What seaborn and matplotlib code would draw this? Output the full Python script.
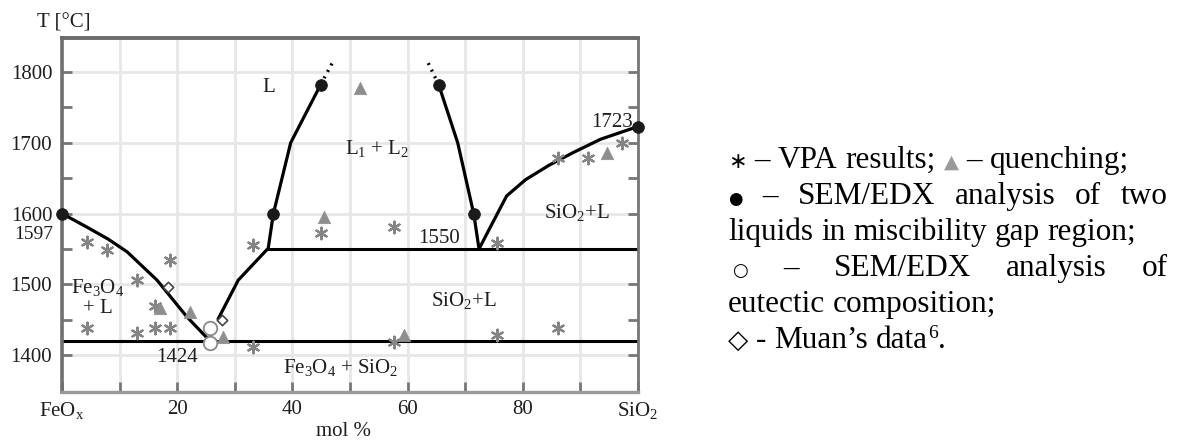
import numpy as np
import pandas as pd
import matplotlib
matplotlib.use("Agg")
import matplotlib.pyplot as plt
import seaborn as sns

# ---------------- data ----------------
liq_fe_x = [0, 4.3, 8.0, 11.3, 16.5, 21.7, 25.7]
liq_fe_T = [1600, 1581, 1564, 1546, 1506, 1454, 1420]

gap_left_x = [27.1, 30.6, 35.8, 36.7, 39.7, 44.9]
gap_left_T = [1451, 1506, 1551, 1600, 1700, 1782]

gap_right_x = [65.4, 68.7, 71.5, 72.4]
gap_right_T = [1782, 1700, 1599, 1550]

dot_left_x = [44.9, 47.0]
dot_left_T = [1782, 1814]
dot_right_x = [65.4, 63.5]
dot_right_T = [1782, 1814]

liq_si_x = [72.4, 74.5, 77.2, 80.5, 84.5, 88.7, 93.5, 100]
liq_si_T = [1550, 1583, 1625, 1648, 1668, 1686, 1705, 1723]

eutectic_x = [0, 100]
eutectic_T = [1420, 1420]
monotectic_x = [35.8, 100]
monotectic_T = [1550, 1550]

vpa_x = [4.3, 7.8, 13.0, 18.8, 4.3, 13.0, 16.2, 18.8, 16.2, 33.2, 33.2,
         44.9, 57.6, 57.6, 75.6, 86.1, 75.6, 86.1, 91.4, 97.3]
vpa_T = [1560, 1548, 1506, 1534, 1438, 1431, 1438, 1438, 1470, 1411, 1555,
         1572, 1581, 1418, 1428, 1438, 1558, 1678, 1678, 1700]

quench_x = [51.8, 45.4, 17.0, 22.3, 28.0, 59.3, 94.6]
quench_T = [1777, 1595, 1467, 1461, 1425, 1428, 1686]

sem_gap_x = [0, 36.7, 44.9, 65.4, 71.5, 100]
sem_gap_T = [1600, 1600, 1782, 1782, 1599, 1723]

sem_eut_x = [25.7, 25.7]
sem_eut_T = [1438, 1417]

muan_x = [18.4, 27.8]
muan_T = [1496, 1449]

region_labels = ["L", "L$_1$ + L$_2$", "SiO$_2$+L", "SiO$_2$+L",
                 "Fe$_3$O$_4$ + SiO$_2$", "Fe$_3$O$_4$", "+ L",
                 "1424", "1550", "1723"]
region_x = [35.9, 54.7, 89.4, 69.7, 48.3, 6.1, 6.3, 20.0, 65.5, 95.5]
region_T = [1778, 1692, 1602, 1477, 1383, 1496, 1466, 1397, 1565, 1729]

extra_ylabel = "1597"
extra_ylabel_T = 1570

xtick_vals = [0, 10, 20, 30, 40, 50, 60, 70, 80, 90, 100]
xtick_text = ["FeO$_x$", "", "20", "", "40", "", "60", "", "80", "", "SiO$_2$"]
ytick_major = [1400, 1500, 1600, 1700, 1800]
ytick_minor = [1450, 1550, 1650, 1750]

legend_lines = [
    "∗ – VPA results; ▲ – quenching;",
    "● – SEM/EDX analysis of two",
    "liquids in miscibility gap region;",
    "○ – SEM/EDX analysis of",
    "eutectic composition;",
    "◇ - Muan’s data",
]

# ---------------- style ----------------
sns.set_theme(style="white")
SERIF = ["Liberation Serif", "DejaVu Serif", "DejaVu Sans"]
plt.rcParams["font.family"] = SERIF
plt.rcParams["mathtext.fontset"] = "custom"
plt.rcParams["mathtext.rm"] = "Liberation Serif"
plt.rcParams["mathtext.it"] = "Liberation Serif:italic"
plt.rcParams["mathtext.default"] = "regular"

W, H = 1182, 443
fig = plt.figure(figsize=(W / 100, H / 100), dpi=100)
ax = fig.add_axes([62 / W, 51 / H, 576 / W, 354 / H])
ax.set_xlim(0, 100)
ax.set_ylim(1348, 1848)

TXT = "#1e1e1e"
GRAYM = "#858585"
CFS = 15

# lines
line_kw = dict(color="black", linewidth=2.3, sort=False, estimator=None, ax=ax, legend=False)
sns.lineplot(x=eutectic_x, y=eutectic_T, **{**line_kw, "linewidth": 2.2})
sns.lineplot(x=monotectic_x, y=monotectic_T, **{**line_kw, "linewidth": 2.2})
sns.lineplot(x=liq_fe_x, y=liq_fe_T, **line_kw)
sns.lineplot(x=gap_left_x, y=gap_left_T, **line_kw)
sns.lineplot(x=gap_right_x, y=gap_right_T, **line_kw)
sns.lineplot(x=liq_si_x, y=liq_si_T, **line_kw)
for xs, ts in [(dot_left_x, dot_left_T), (dot_right_x, dot_right_T)]:
    sns.lineplot(x=xs, y=ts, color="black", linewidth=2.4, linestyle=(0, (0.6, 1.6)),
                 sort=False, estimator=None, ax=ax, legend=False)

# markers
sns.scatterplot(x=vpa_x, y=vpa_T, marker=(6, 2, 0), s=70, color=GRAYM,
                linewidth=1.6, ax=ax, legend=False, zorder=4)
sns.scatterplot(x=quench_x, y=quench_T, marker="^", s=80, color="#8e8e8e",
                edgecolor="#8e8e8e", linewidth=0.5, ax=ax, legend=False, zorder=4)
sns.scatterplot(x=sem_gap_x, y=sem_gap_T, marker="o", s=70, color="#1a1a1a",
                edgecolor="#1a1a1a", ax=ax, legend=False, zorder=5, clip_on=False)
sns.scatterplot(x=sem_eut_x, y=sem_eut_T, marker="o", s=95, color="white",
                edgecolor="#8a8a8a", linewidth=1.3, ax=ax, legend=False, zorder=5)
sns.scatterplot(x=muan_x, y=muan_T, marker="D", s=28, color="white",
                edgecolor="#444444", linewidth=1.2, ax=ax, legend=False, zorder=5)

# region labels
for lab, x, t in zip(region_labels, region_x, region_T):
    ax.text(x, t, lab, ha="center", va="center", fontsize=CFS, color=TXT, zorder=6)
ax.text(-4.9, extra_ylabel_T, extra_ylabel, ha="center", va="center", fontsize=14,
        color=TXT, clip_on=False)

# axes styling
ax.set_xticks(xtick_vals)
ax.set_xticklabels(xtick_text)
ax.set_yticks(ytick_major)
ax.set_yticks(ytick_minor, minor=True)
ax.set_yticklabels([str(v) for v in ytick_major])
ax.grid(True, which="major", color="#e7e7e7", linewidth=2.0, zorder=0)
ax.set_axisbelow(True)
ax.tick_params(axis="both", which="both", direction="in", length=7, width=2,
               color="#777777", labelsize=CFS, labelcolor=TXT, left=True, right=True,
               bottom=True, top=False)
ax.tick_params(axis="y", pad=7)
ax.tick_params(axis="x", pad=6)
for side, c, lw in [("left", "#707070", 2.6), ("top", "#6a6a6a", 2.8),
                    ("right", "#777777", 2.0), ("bottom", "#9a9a9a", 2.4)]:
    ax.spines[side].set_visible(True)
    ax.spines[side].set_color(c)
    ax.spines[side].set_linewidth(lw)
ax.set_xlabel("")
ax.set_ylabel("")

fig.text(64 / W, 1 - 23 / H, "T [°C]", ha="center", va="center", fontsize=CFS, color=TXT)
fig.text(343 / W, 1 - 432 / H, "mol %", ha="center", va="center", fontsize=CFS, color=TXT)

# ---------------- text legend on the right ----------------
fig.canvas.draw()
R = fig.canvas.get_renderer()
FS = 22.5
SYM = {"∗": 16, "▲": 14, "●": 12, "○": 13, "◇": 19}


def fam_of(word):
    return ["DejaVu Sans"] if word in SYM else SERIF


def size_of(word):
    return SYM.get(word, FS)


def color_of(word):
    return "#9a9a9a" if word == "▲" else "black"


def put(s, x, base, size=FS, color="black", family=None):
    return fig.text(x / W, 1 - base / H, s, ha="left", va="baseline", fontsize=size,
                    color=color, family=family or SERIF)


def wid(s, size=FS, family=None):
    t = fig.text(0, 0, s, fontsize=size, family=family or SERIF)
    w = t.get_window_extent(R).width
    t.remove()
    return w


SP = wid("a a") - wid("aa")


def wwid(w):
    return wid(w, size_of(w), fam_of(w))


def ragged(words, x0, base):
    x = x0
    for w in words:
        put(w, x, base, size=size_of(w), color=color_of(w), family=fam_of(w))
        x += wwid(w) + SP
    return x


def justify(words, x0, x1, base):
    ws = [wwid(w) for w in words]
    gap = (x1 - x0 - sum(ws)) / (len(words) - 1)
    x = x0
    for w, wd in zip(words, ws):
        put(w, x, base, size=size_of(w), color=color_of(w), family=fam_of(w))
        x += wd + gap


X0, X1 = 728, 1168
bases = [168, 204, 240, 276, 312, 348]
ragged(legend_lines[0].split(" "), X0, bases[0])
justify(legend_lines[1].split(" "), X0, X1, bases[1])
ragged(legend_lines[2].split(" "), X0, bases[2])
justify(legend_lines[3].split(" "), X0 + 4, X1, bases[3])
ragged(legend_lines[4].split(" "), X0, bases[4])
xe = ragged(legend_lines[5].split(" "), X0, bases[5]) - SP
put("6", xe, bases[5] - 10, size=14)
put(".", xe + wid("6", 14), bases[5])

fig.savefig("out.png", dpi=100)
